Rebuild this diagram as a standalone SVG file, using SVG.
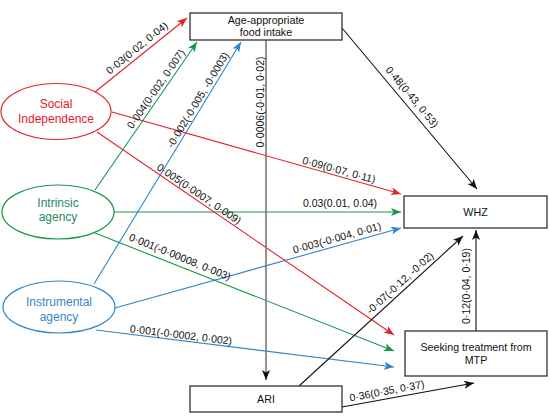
<svg xmlns="http://www.w3.org/2000/svg" width="550" height="420" viewBox="0 0 550 420">
<style>
.box{fill:#fff;stroke:#333;stroke-width:1.3}
.nt{font-family:"Liberation Sans",Arial,sans-serif;font-size:10.7px;fill:#111;text-anchor:middle}
.et{font-family:"Liberation Sans",Arial,sans-serif;font-size:12px;text-anchor:middle}
.lb{font-family:"Liberation Sans",Arial,sans-serif;font-size:10.5px;fill:#111;text-anchor:middle}
.r{stroke:#e3202b;stroke-width:1.1;fill:none}
.g{stroke:#16984a;stroke-width:1.1;fill:none}
.b{stroke:#2f86c8;stroke-width:1.1;fill:none}
.k{stroke:#111;stroke-width:1.1;fill:none}
</style>
<defs>
<marker id="ar" markerUnits="userSpaceOnUse" markerWidth="11" markerHeight="9" refX="10" refY="4.5" orient="auto"><path d="M0,0.5 L10,4.5 L0,8.5 L2.5,4.5 z" fill="#e3202b"/></marker>
<marker id="ag" markerUnits="userSpaceOnUse" markerWidth="11" markerHeight="9" refX="10" refY="4.5" orient="auto"><path d="M0,0.5 L10,4.5 L0,8.5 L2.5,4.5 z" fill="#16984a"/></marker>
<marker id="ab" markerUnits="userSpaceOnUse" markerWidth="11" markerHeight="9" refX="10" refY="4.5" orient="auto"><path d="M0,0.5 L10,4.5 L0,8.5 L2.5,4.5 z" fill="#2f86c8"/></marker>
<marker id="ak" markerUnits="userSpaceOnUse" markerWidth="11" markerHeight="9" refX="10" refY="4.5" orient="auto"><path d="M0,0.5 L10,4.5 L0,8.5 L2.5,4.5 z" fill="#111"/></marker>
</defs>
<rect width="550" height="420" fill="#fff"/>

<g id="connectors">
<line class="r" x1="95" y1="92" x2="187" y2="18" marker-end="url(#ar)"/>
<line class="g" x1="95" y1="190" x2="197" y2="42" marker-end="url(#ag)"/>
<line class="b" x1="94" y1="284" x2="241" y2="42" marker-end="url(#ab)"/>
<line class="r" x1="112" y1="112" x2="401" y2="194" marker-end="url(#ar)"/>
<line class="g" x1="114" y1="212" x2="401" y2="212" marker-end="url(#ag)"/>
<line class="b" x1="115" y1="308" x2="401" y2="228" marker-end="url(#ab)"/>
<line class="r" x1="97" y1="132" x2="394" y2="335" marker-end="url(#ar)"/>
<line class="g" x1="95" y1="233" x2="394" y2="351" marker-end="url(#ag)"/>
<line class="b" x1="96" y1="330" x2="394" y2="367" marker-end="url(#ab)"/>
<line class="k" x1="342" y1="28" x2="477" y2="189" marker-end="url(#ak)"/>
<line x1="266" y1="40" x2="266" y2="380" stroke="#777" stroke-width="1.6" marker-end="url(#ak)"/>
<line class="k" x1="299" y1="386" x2="463" y2="236" marker-end="url(#ak)"/>
<line class="k" x1="476" y1="331" x2="476" y2="230" stroke-width="1.5" marker-end="url(#ak)"/>
<line class="k" x1="342" y1="407" x2="474" y2="383" marker-end="url(#ak)"/>

<text class="lb" transform="translate(137,48) rotate(-39.2)" y="3.5">0·03(0·02, 0·04)</text>
<text class="lb" transform="translate(156,89) rotate(-55.4)" y="3.5">0·004(0·002, 0·007)</text>
<text class="lb" transform="translate(198,100) rotate(-58.8)" y="3.5">-0·002(-0·005, -0·0003)</text>
<text class="lb" transform="translate(260,102) rotate(-90)" y="3.5">0·0006(-0·01, 0·02)</text>
<text class="lb" transform="translate(412,97) rotate(50)" y="3.5">0·48(0·43, 0·53)</text>
<text class="lb" transform="translate(339,170) rotate(15.3)" y="3.5">0·09(0·07, 0·11)</text>
<text class="lb" transform="translate(199,194) rotate(34.2)" y="3.5">0·005(0·0007, 0·009)</text>
<text class="lb" transform="translate(340,203)" y="3.5">0.03(0.01, 0.04)</text>
<text class="lb" transform="translate(180,257) rotate(22)" y="3.5">0·001(-0·00008, 0·003)</text>
<text class="lb" transform="translate(337,238) rotate(-15.6)" y="3.5">0·003(-0·004, 0·01)</text>
<text class="lb" transform="translate(181,335) rotate(7)" y="3.5">0·001(-0·0002, 0·002)</text>
<text class="lb" transform="translate(400,283) rotate(-42.3)" y="3.5">-0·07(-0·12, -0·02)</text>
<text class="lb" transform="translate(466,286) rotate(-90)" y="3.5">0·12(0·04, 0·19)</text>
<text class="lb" transform="translate(387,391) rotate(-10.7)" y="3.5">0·36(0·35, 0·37)</text>
</g>

<g id="social">
<ellipse cx="56" cy="111.5" rx="55" ry="28" fill="#fff" stroke="#e3202b" stroke-width="1.2"/>
<text class="et" fill="#e3202b" x="56" y="108">Social</text>
<text class="et" fill="#e3202b" x="56" y="123">Independence</text>
</g>
<g id="intrinsic">
<ellipse cx="58" cy="212" rx="56" ry="27" fill="#fff" stroke="#16984a" stroke-width="1.2"/>
<text class="et" fill="#2a8a5e" x="58" y="207">Intrinsic</text>
<text class="et" fill="#2a8a5e" x="58" y="221">agency</text>
</g>
<g id="instrumental">
<ellipse cx="59" cy="307" rx="56" ry="26" fill="#fff" stroke="#2f86c8" stroke-width="1.2"/>
<text class="et" fill="#3a86c8" x="59" y="306">Instrumental</text>
<text class="et" fill="#3a86c8" x="59" y="321">agency</text>
</g>
<g id="age">
<rect class="box" x="190" y="13" width="152" height="27"/>
<text class="nt" x="266" y="24">Age-appropriate</text>
<text class="nt" x="266" y="36">food intake</text>
</g>
<g id="whz">
<rect class="box" x="404" y="196" width="143" height="32"/>
<text class="nt" x="475.5" y="216">WHZ</text>
</g>
<g id="seeking">
<rect class="box" x="405" y="331" width="142" height="45"/>
<text class="nt" x="476" y="351">Seeking treatment from</text>
<text class="nt" x="476" y="364">MTP</text>
</g>
<g id="ari">
<rect class="box" x="190" y="386" width="152" height="26"/>
<text class="nt" x="266" y="403">ARI</text>
</g>
</svg>
